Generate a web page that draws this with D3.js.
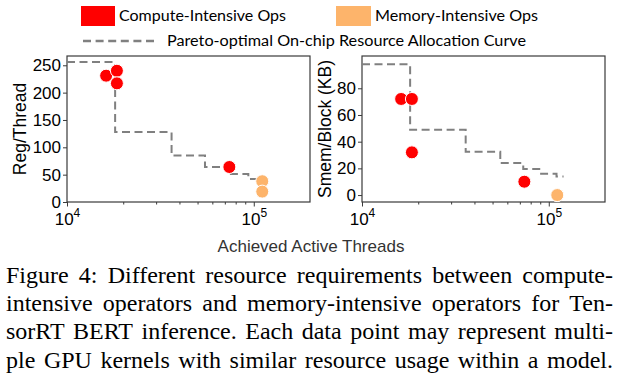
<!DOCTYPE html>
<meta charset="utf-8">
<html>
<head>
  <style>
    body { margin: 0; background: #fff; }
    svg { display: block; }
  </style>
  <script src="https://d3js.org/d3.v7.min.js"></script>
</head>
<body>
  <svg width="620" height="385"></svg>
  <script>
    // kernels: achieved active threads, registers per thread, shared memory per block
    var computeThreads = [16200, 18500, 18500, 74000];
    var computeRegs = [231, 240, 217, 64];
    var computeSmem = [72, 72, 32, 10];
    var memoryThreads = [111000, 111000];
    var memoryRegs = [38, 19];
    var memorySmem = [0, 0];

    // pareto-optimal allocation curves (step after)
    var paretoRegThreads = [10000, 18100, 36300, 54800, 73100, 93500, 112000, 114000];
    var paretoRegs = [256, 128, 85, 64, 51, 42, 36, 36];
    var paretoSmemThreads = [10000, 18100, 35900, 55000, 73000, 91000, 110000, 120000];
    var paretoSmem = [98, 49, 32.5, 24, 19.5, 16, 14, 14];

    var regTicks = [0, 50, 100, 150, 200, 250];
    var smemTicks = [0, 20, 40, 60, 80];
    var majorX = [1e4, 1e5];
    var minorX = [2e4, 3e4, 4e4, 5e4, 6e4, 7e4, 8e4, 9e4];

    var legendItems = ["Compute-Intensive Ops", "Memory-Intensive Ops"];
    var curveLabel = "Pareto-optimal On-chip Resource Allocation Curve";
    var xLabel = "Achieved Active Threads";
    var captionLines = [
      "Figure 4: Different resource requirements between compute-",
      "intensive operators and memory-intensive operators for Ten-",
      "sorRT BERT inference. Each data point may represent multi-",
      "ple GPU kernels with similar resource usage within a model."
    ];

    var red = "#ff0000", orange = "#fdb46b", gray = "#808080";
    var sans = "'Liberation Sans', Arial, sans-serif";
    var serif = "'Liberation Serif', 'Times New Roman', serif";
    var legendFont = "Lato, 'Open Sans', sans-serif";

    var svg = d3.select("svg");
    svg.append("rect").attr("width", 620).attr("height", 385).attr("fill", "#fff");

    var plotTop = 56, plotBottom = 202;

    function panel(left, right, yDomain, yTicks, yTitle, yTitleX, pThreads, pVals, cVals, mVals) {
      var x = d3.scaleLog().domain([1e4, 2e5]).range([left, right]);
      var y = d3.scaleLinear().domain(yDomain).range([plotBottom, plotTop]);
      var g = svg.append("g");

      // frame
      g.append("rect")
        .attr("x", left).attr("y", plotTop)
        .attr("width", right - left).attr("height", plotBottom - plotTop)
        .attr("fill", "none").attr("stroke", "#3a3a3a").attr("stroke-width", 1.2);

      // y axis
      var ya = g.append("g")
        .attr("transform", "translate(" + left + ",0)")
        .call(d3.axisLeft(y).tickValues(yTicks).tickSize(4).tickPadding(2));
      ya.select(".domain").remove();
      ya.selectAll("line").attr("stroke", "#3a3a3a");
      ya.selectAll("text").style("font-family", sans).style("font-size", "17px").attr("fill", "#000");

      // x axis: minor then major ticks
      var xm = g.append("g")
        .attr("transform", "translate(0," + plotBottom + ")")
        .call(d3.axisBottom(x).tickValues(minorX).tickSize(2.5).tickFormat(""));
      xm.select(".domain").remove();
      xm.selectAll("line").attr("stroke", "#3a3a3a");
      var xa = g.append("g")
        .attr("transform", "translate(0," + plotBottom + ")")
        .call(d3.axisBottom(x).tickValues(majorX).tickSize(4.5).tickFormat(""));
      xa.select(".domain").remove();
      xa.selectAll("line").attr("stroke", "#3a3a3a");
      xa.selectAll(".tick").each(function(d) {
        var t = d3.select(this).append("text")
          .attr("y", 23).attr("text-anchor", "middle")
          .style("font-family", sans).style("font-size", "17px").attr("fill", "#000");
        t.append("tspan").text("10");
        t.append("tspan").attr("dy", -8).style("font-size", "12px").text(Math.round(Math.log10(d)));
      });

      // y title
      g.append("text")
        .attr("transform", "translate(" + yTitleX + "," + ((plotTop + plotBottom) / 2) + ") rotate(-90)")
        .attr("text-anchor", "middle").attr("dy", "0.35em")
        .style("font-family", sans).style("font-size", "17.5px").attr("fill", "#000")
        .text(yTitle);

      // pareto curve
      var line = d3.line()
        .x(function(d) { return x(d[0]); })
        .y(function(d) { return y(d[1]); })
        .curve(d3.curveStepAfter);
      g.append("path")
        .attr("d", line(d3.zip(pThreads, pVals)))
        .attr("fill", "none").attr("stroke", gray)
        .attr("stroke-width", 2).attr("stroke-dasharray", "8,4.5");

      // points
      g.selectAll(".mem").data(d3.zip(memoryThreads, mVals)).enter().append("circle")
        .attr("cx", function(d) { return x(d[0]); })
        .attr("cy", function(d) { return y(d[1]); })
        .attr("r", 6.5).attr("fill", orange).attr("stroke", "#fff").attr("stroke-width", 1);
      g.selectAll(".cmp").data(d3.zip(computeThreads, cVals)).enter().append("circle")
        .attr("cx", function(d) { return x(d[0]); })
        .attr("cy", function(d) { return y(d[1]); })
        .attr("r", 6.5).attr("fill", red).attr("stroke", "#fff").attr("stroke-width", 1);
    }

    panel(67, 310, [0, 267], regTicks, "Reg/Thread", 20, paretoRegThreads, paretoRegs, computeRegs, memoryRegs);
    panel(362, 605, [-5.2, 104.2], smemTicks, "Smem/Block (KB)", 325, paretoSmemThreads, paretoSmem, computeSmem, memorySmem);

    // x title
    svg.append("text")
      .attr("x", 311).attr("y", 252).attr("text-anchor", "middle")
      .style("font-family", sans).style("font-size", "17px").attr("fill", "#333")
      .text(xLabel);

    // legend
    svg.append("rect").attr("x", 81).attr("y", 6).attr("width", 34).attr("height", 20).attr("fill", red);
    svg.append("text").attr("x", 119).attr("y", 21)
      .style("font-family", legendFont).style("font-size", "15.5px")
      .attr("textLength", 167).attr("lengthAdjust", "spacingAndGlyphs").text(legendItems[0]);
    svg.append("rect").attr("x", 336).attr("y", 6).attr("width", 35).attr("height", 20).attr("fill", orange);
    svg.append("text").attr("x", 375).attr("y", 21)
      .style("font-family", legendFont).style("font-size", "15.5px")
      .attr("textLength", 163).attr("lengthAdjust", "spacingAndGlyphs").text(legendItems[1]);
    svg.append("line").attr("x1", 83).attr("x2", 157).attr("y1", 41).attr("y2", 41)
      .attr("stroke", gray).attr("stroke-width", 2.5).attr("stroke-dasharray", "8,4.6");
    svg.append("text").attr("x", 167).attr("y", 46)
      .style("font-family", legendFont).style("font-size", "15.5px")
      .attr("textLength", 359).attr("lengthAdjust", "spacingAndGlyphs").text(curveLabel);

    // caption, justified word by word
    var capLeft = 6, capRight = 613;
    captionLines.forEach(function(s, i) {
      var words = s.split(" ");
      var yy = 283 + i * 28.2;
      var nodes = words.map(function(w) {
        return svg.append("text").attr("y", yy)
          .style("font-family", serif).style("font-size", "24px")
          .attr("fill", "#000").text(w);
      });
      var widths = nodes.map(function(n) { return n.node().getComputedTextLength(); });
      var gap = (capRight - capLeft - d3.sum(widths)) / (words.length - 1);
      var xx = capLeft;
      nodes.forEach(function(n, j) {
        n.attr("x", xx);
        xx += widths[j] + gap;
      });
    });
  </script>
</body>
</html>
